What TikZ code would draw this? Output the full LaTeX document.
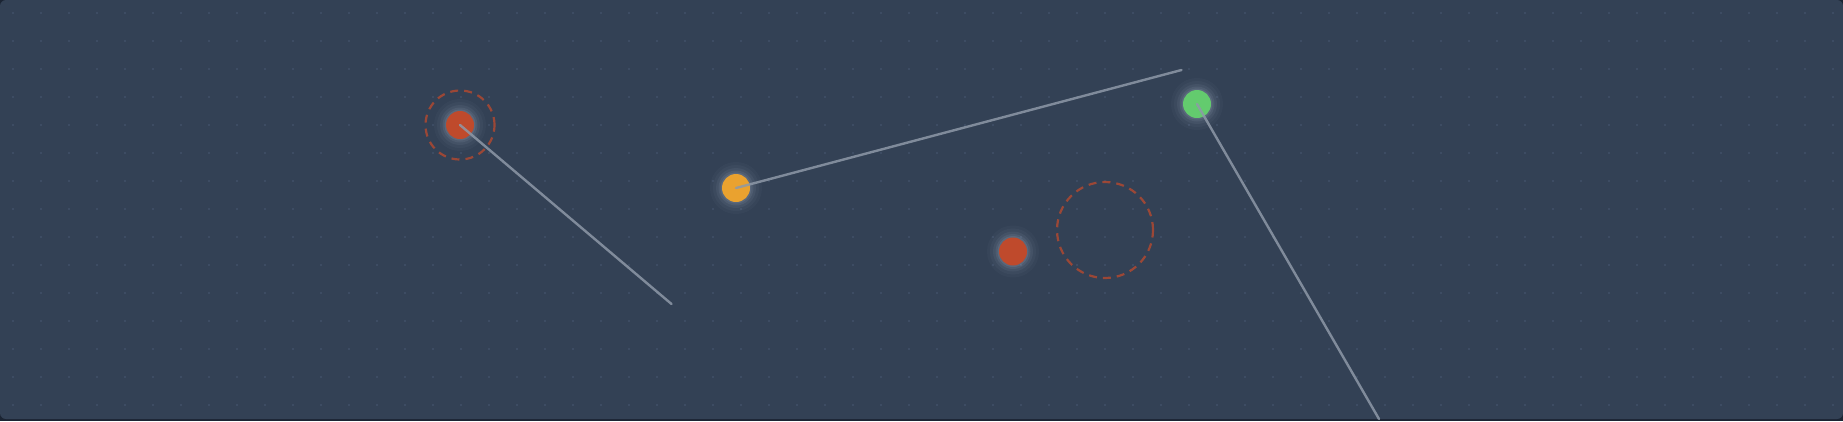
\documentclass[tikz,border=0pt]{standalone}
\definecolor{pagebg}{HTML}{1B2433}
\definecolor{panel}{HTML}{334155}
\definecolor{griddot}{HTML}{415069}
\definecolor{dotred}{HTML}{BF4A2C}
\definecolor{dotyellow}{HTML}{EAA22F}
\definecolor{dotgreen}{HTML}{63CB6E}
\definecolor{linkgray}{HTML}{8E99A8}
\definecolor{glowcol}{HTML}{C8D8EE}
\tikzset{
  glow/.style={fill=glowcol},
  dotnode/.style={circle, inner sep=0pt, minimum size=28pt, draw=none},
  link/.style={draw=linkgray, line width=2.4pt, line cap=round, opacity=0.85},
  ring/.style={draw=dotred, opacity=0.75, line width=2.2pt, dash pattern=on 8pt off 6pt}
}
\newcommand{\glowat}[1]{%
  \fill[glow, opacity=0.03] (#1) circle (26pt);
  \fill[glow, opacity=0.04] (#1) circle (23pt);
  \fill[glow, opacity=0.06] (#1) circle (20pt);
  \fill[glow, opacity=0.08] (#1) circle (17.5pt);
  \fill[glow, opacity=0.10] (#1) circle (15.5pt);
}
\begin{document}
\begin{tikzpicture}[x=1pt, y=-1pt]
  \fill[pagebg] (0,0) rectangle (1843,421);
  \fill[panel, rounded corners=6pt] (0,0) rectangle (1843,419);
  \useasboundingbox (0,0) rectangle (1843,421);
  % dot grid
  \foreach \i in {0,...,65} {
    \foreach \j in {0,...,14} {
      \fill[griddot] ({13+28*\i},{13+28*\j}) circle (1.2pt);
    }
  }
  % rings
  \draw[ring] (460,125) circle (34.5pt);
  \draw[ring] (1105,230) circle (48pt);
  % glows
  \glowat{460,125}
  \glowat{736,188}
  \glowat{1197,104}
  \glowat{1013,251.5}
  % dots
  \node[dotnode, fill=dotred] (r1) at (460,125) {};
  \node[dotnode, fill=dotyellow] (y1) at (736,188) {};
  \node[dotnode, fill=dotgreen] (g1) at (1197,104) {};
  \node[dotnode, fill=dotred] (r2) at (1013,251.5) {};
  % free ends
  \coordinate (e1) at (671.5,304);
  \coordinate (e2) at (1181.5,70);
  \coordinate (e3) at (1379,419);
  % links
  \draw[link] (r1.center) -- (e1);
  \draw[link] (y1.center) -- (e2);
  \draw[link] (g1.center) -- (e3);
\end{tikzpicture}
\end{document}
